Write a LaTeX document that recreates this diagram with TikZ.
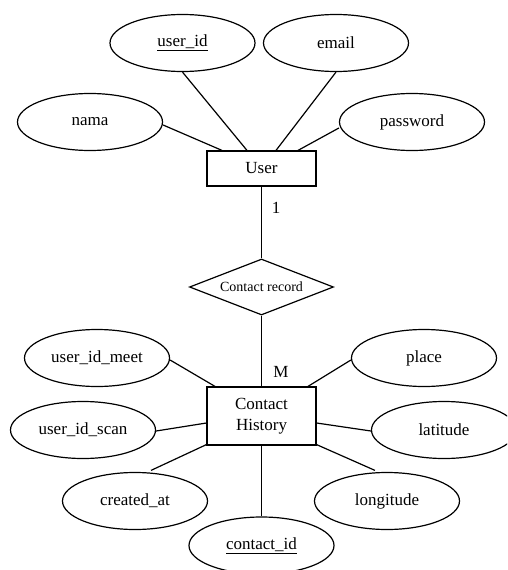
\documentclass[tikz,border=0pt]{standalone}
\usepackage{fontspec}
\setmainfont{Liberation Serif}
\usetikzlibrary{shapes.geometric}
\begin{document}
\begin{tikzpicture}[x=1pt,y=-1pt,
  every node/.style={font=\fontsize{17}{21}\selectfont},
  attr/.style={draw,ellipse,line width=1.2pt,minimum width=145pt,minimum height=57pt,inner sep=0pt},
  ent/.style={draw,rectangle,line width=1.2pt,inner sep=0pt,align=center},
  rel/.style={draw,diamond,line width=1.2pt,minimum width=144pt,minimum height=56pt,inner sep=0pt,aspect=2.57,font=\fontsize{14}{16}\selectfont},
  conn/.style={line width=1.2pt}]
\clip (0,0) rectangle (507,570);
\fill[white] (0,0) rectangle (507,570);
% User entity and attributes
\node[ent,minimum width=109pt,minimum height=35pt] (user) at (261.5,168.5) {User};
\node[attr] (userid) at (182.5,43) {\underline{user\_id}};
\node[attr] (email) at (336,43) {email};
\node[attr] (nama) at (90,122) {nama};
\node[attr] (password) at (412,122) {password};
\draw[conn] ([yshift=-3pt]nama.east) -- ([xshift=-39.5pt]user.north);
\draw[conn] (userid.south) -- ([xshift=-14.5pt]user.north);
\draw[conn] (email.south) -- ([xshift=14.5pt]user.north);
\draw[conn] ([yshift=-6pt]password.west) -- ([xshift=36.5pt]user.north);
% Relationship
\node[rel] (rec) at (261.5,287) {Contact record};
\draw[conn] (user) -- (rec);
\node (one) at (276,208) {1};
% Contact History
\node[ent,minimum width=109pt,minimum height=58pt] (ch) at (261.5,416) {Contact\\History};
\draw[conn] (rec) -- (ch);
\node (many) at (281,372) {M};
\node[attr] (meet) at (97,358) {user\_id\_meet};
\node[attr] (place) at (424,358) {place};
\node[attr] (scan) at (83,430) {user\_id\_scan};
\node[attr] (lat) at (444,430) {latitude};
\node[attr] (created) at (135,501) {created\_at};
\node[attr] (long) at (387,501) {longitude};
\node[attr] (cid) at (261.5,545.5) {\underline{contact\_id}};
\draw[conn] ([yshift=-2pt]meet.east) -- ([xshift=-46.5pt]ch.north);
\draw[conn] ([yshift=-2pt]place.west) -- ([xshift=46.5pt]ch.north);
\draw[conn] ([yshift=-1pt]scan.east) -- ([yshift=-7pt]ch.west);
\draw[conn] ([yshift=-1pt]lat.west) -- ([yshift=-7pt]ch.east);
\draw[conn] ([xshift=16pt,yshift=1.5pt]created.north) -- ([yshift=1pt]ch.south west);
\draw[conn] ([xshift=-12pt,yshift=1.5pt]long.north) -- ([yshift=1pt]ch.south east);
\draw[conn] (ch) -- (cid);
\end{tikzpicture}
\end{document}
